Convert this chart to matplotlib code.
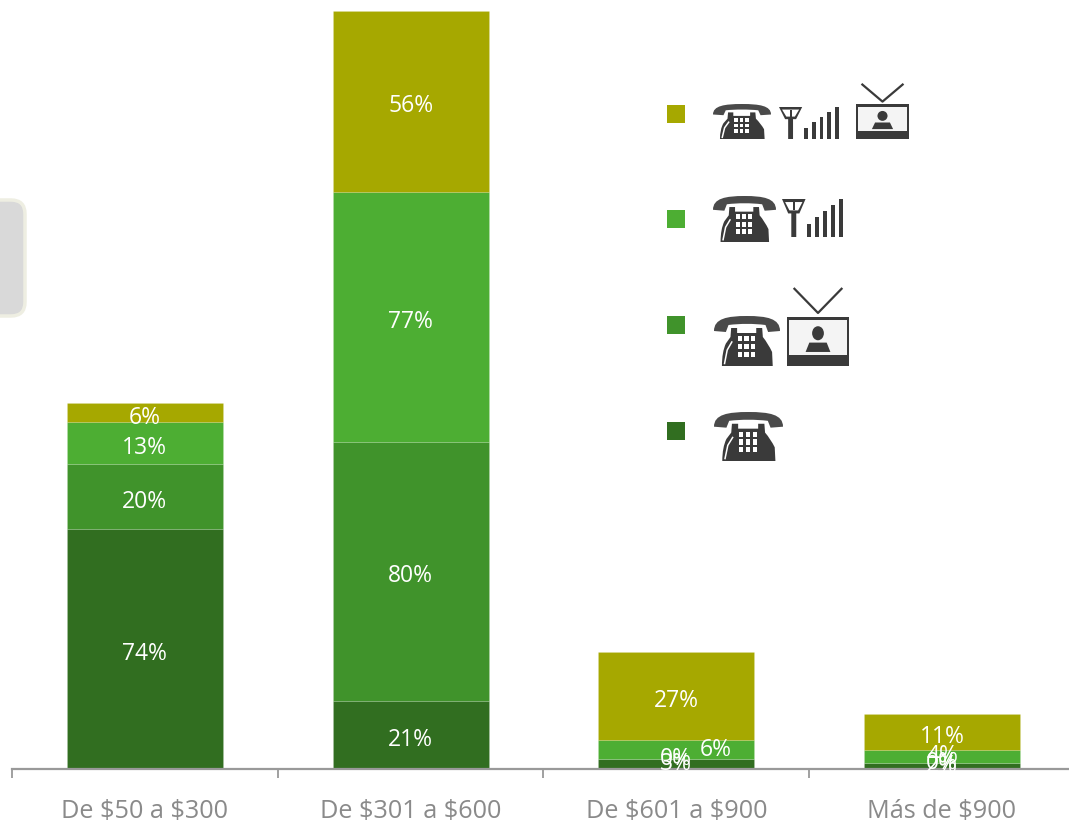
import numpy as np
from matplotlib import pyplot as plt
from matplotlib.patches import Rectangle, Polygon, FancyBboxPatch, Ellipse, PathPatch
from matplotlib.path import Path
from matplotlib.lines import Line2D

plt.rcParams['font.family'] = ['Open Sans', 'DejaVu Sans']
plt.rcParams['text.parse_math'] = False

categories = ['De $50 a $300', 'De $301 a $600', 'De $601 a $900', 'Más de $900']

# series, from bottom to top of the stack
phone = [74, 21, 3, 2]
phone_tv = [20, 80, 0, 0]
phone_mobile = [13, 77, 6, 4]
phone_mobile_tv = [6, 56, 27, 11]

series = [phone, phone_tv, phone_mobile, phone_mobile_tv]
colors = ['#316E20', '#40932B', '#4DAE33', '#A6A800']

DARK = '#3A3A3A'

fig = plt.figure(figsize=(10.69, 8.23), dpi=100)

# chart axes: x axis line sits 769 px from the top, first tick 12 px from the left
ax = fig.add_axes([12 / 1069, (823 - 769) / 823, 1 - 12 / 1069, 769 / 823])
ax.set_xlim(-0.5, 3.478)
ax.set_ylim(0, 237.3)
ax.patch.set_alpha(0)

x = np.arange(len(categories))
bottom = np.zeros(len(categories))
for s in range(len(series)):
    ax.bar(x, series[s], 0.587, bottom=bottom, color=colors[s],
           edgecolor=(1, 1, 1, 0.12), linewidth=0.6)
    for i in range(len(categories)):
        # the 6% of the third bar is pushed aside in the original
        dx = 0.147 if (s == 2 and i == 2) else 0
        # labels of the thin segments sit a little higher
        dy = 0 if (i >= 2 and s < 3) else -3.6
        ax.annotate('{}%'.format(series[s][i]), (i + dx, bottom[i] + series[s][i] / 2),
                    xytext=(0, dy), textcoords='offset points',
                    color='white', fontsize=16.5, ha='center', va='center')
    bottom += np.array(series[s])

for side in ['top', 'left', 'right']:
    ax.spines[side].set_visible(False)
ax.spines['bottom'].set_color('#999999')
ax.spines['bottom'].set_linewidth(1.6)
ax.set_yticks([])
ax.set_xticks(x - 0.5)
ax.set_xticklabels([])
ax.tick_params(axis='x', which='major', length=6.5, width=1.3, color='#999999')
ax.set_xticks(x, minor=True)
ax.set_xticklabels(categories, minor=True, fontsize=18.2, color='#8A8A8A')
ax.tick_params(axis='x', which='minor', length=0, pad=21.5)

# overlay in pixel coordinates for the icon legend
ov = fig.add_axes([0, 0, 1, 1], zorder=5)
ov.set_xlim(0, 1069)
ov.set_ylim(823, 0)
ov.axis('off')


def draw_phone(x0, y0, x1, y1):
    w = x1 - x0
    h = y1 - y0
    px = lambda v: x0 + v * w
    py = lambda v: y0 + v * h
    # handset
    verts = [(0, .3), (0, .05), (.2, 0), (.5, 0), (.8, 0), (1, .05), (1, .3),
             (.82, .32), (.78, .18), (.6, .15), (.4, .15), (.22, .18), (.18, .32), (0, .3)]
    codes = [Path.MOVETO, Path.CURVE4, Path.CURVE4, Path.CURVE4, Path.CURVE4, Path.CURVE4, Path.CURVE4,
             Path.LINETO, Path.LINETO, Path.CURVE4, Path.CURVE4, Path.CURVE4, Path.LINETO, Path.CLOSEPOLY]
    ov.add_patch(PathPatch(Path([(px(a), py(b)) for a, b in verts], codes), color='#4A4A4A', lw=0))
    # body
    verts = [(.26, .24), (.35, .24), (.35, .34), (.64, .34), (.64, .24), (.73, .24), (.74, .42),
             (.82, .55), (.88, .72), (.89, 1), (.12, 1), (.12, .72), (.18, .55), (.25, .42), (.26, .24)]
    codes = [Path.MOVETO] + [Path.LINETO] * 5 + [Path.LINETO, Path.CURVE3, Path.CURVE3, Path.LINETO,
                                                 Path.LINETO, Path.CURVE3, Path.CURVE3, Path.LINETO, Path.CLOSEPOLY]
    ov.add_patch(PathPatch(Path([(px(a), py(b)) for a, b in verts], codes), color=DARK, lw=0))
    # highlight on the left of the body
    ov.add_line(Line2D([px(.27), px(.2), px(.16)], [py(.52), py(.68), py(.95)], color='white', lw=1.1))
    # keypad
    for r in range(3):
        for c in range(3):
            ov.add_patch(Rectangle((px(.36 + c * .1), py(.4 + r * .16)), .065 * w, .105 * h, color='white', lw=0))


def draw_signal(x0, y0, x1, y1):
    w = x1 - x0
    h = y1 - y0
    px = lambda v: x0 + v * w
    py = lambda v: y0 + v * h
    # mast
    ov.add_patch(Polygon([(px(0), py(0)), (px(.38), py(0)), (px(.28), py(.38)), (px(.23), py(.38)),
                          (px(.23), py(1)), (px(.15), py(1)), (px(.15), py(.38)), (px(.1), py(.38))],
                         closed=True, color=DARK, lw=0))
    ov.add_patch(Polygon([(px(.05), py(.08)), (px(.33), py(.08)), (px(.26), py(.3)), (px(.12), py(.3))],
                         closed=True, color='white', lw=0))
    ov.add_patch(Rectangle((px(.175), py(.08)), .03 * w, .22 * h, color=DARK, lw=0))
    # bars
    for b, top in enumerate([.66, .48, .32, .16, 0]):
        ov.add_patch(Rectangle((px(.41 + b * .127), py(top)), .065 * w, (1 - top) * h, color=DARK, lw=0))


def draw_tv(x0, y0, x1, y1):
    w = x1 - x0
    h = y1 - y0
    px = lambda v: x0 + v * w
    py = lambda v: y0 + v * h
    # aerial
    ov.add_line(Line2D([px(.12), px(.5), px(.88)], [py(.01), py(.32), py(.01)], color=DARK, lw=1.6))
    # frame
    ov.add_patch(Rectangle((px(0), py(.37)), w, .63 * h, color=DARK, lw=0))
    ov.add_patch(Rectangle((px(.035), py(.41)), .93 * w, .45 * h, color='#F4F4F4', lw=0))
    # person
    ov.add_patch(Ellipse((px(.5), py(.58)), .19 * w, .18 * h, color=DARK, lw=0))
    ov.add_patch(Polygon([(px(.3), py(.82)), (px(.36), py(.7)), (px(.64), py(.7)), (px(.7), py(.82))],
                         closed=True, color=DARK, lw=0))


# legend squares, top to bottom
for c, top in zip(colors[::-1], [105, 210, 316, 422]):
    ov.add_patch(Rectangle((667, top), 18, 18, color=c, lw=0))

draw_phone(713, 104, 771, 139)
draw_signal(779, 107, 840, 139)
draw_tv(856, 84, 909, 139)

draw_phone(713, 196, 776, 242)
draw_signal(782, 199, 844, 237)

draw_phone(714, 316, 780, 366)
draw_tv(787, 288, 849, 366)

draw_phone(714, 412, 783, 461)

# grey rounded tab on the left edge
ov.add_patch(FancyBboxPatch((-30, 208), 47, 100, boxstyle='round,pad=8,rounding_size=14',
                            facecolor='#D9D9D9', edgecolor='#EEEEE2', linewidth=2.5))

fig.savefig('out.png', dpi=100)
